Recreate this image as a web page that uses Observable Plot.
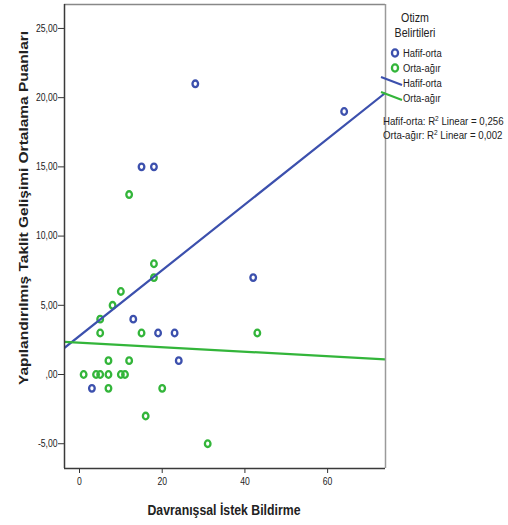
<!DOCTYPE html>
<html>
<head>
<meta charset="utf-8">
<script src="https://cdn.jsdelivr.net/npm/d3@7"></script>
<script src="https://cdn.jsdelivr.net/npm/@observablehq/plot@0.6"></script>
<style>
  body { margin: 0; background: #fff; }
  #chart svg { display: block; }
</style>
</head>
<body>
<div id="chart"></div>
<script>
// Groups and their colours
const groups = ["Hafif-orta", "Orta-ağır"];
const colors = ["#3c50ad", "#33b53a"];

// Hafif-orta observations
const hafifX = [28, 64, 15, 18, 42, 13, 19, 23, 24, 3];
const hafifY = [21, 19, 15, 15, 7, 4, 3, 3, 1, -1];

// Orta-ağır observations
const ortaX = [18, 18, 10, 8, 5, 5, 15, 7, 12, 1, 4, 5, 7, 10, 11, 7, 20, 16, 31, 12, 43];
const ortaY = [8, 7, 6, 5, 4, 3, 3, 1, 1, 0, 0, 0, 0, 0, 0, -1, -1, -3, -5, 13, 3];

// Axes
const xTicks = [0, 20, 40, 60];
const yTicks = [-5, 0, 5, 10, 15, 20, 25];
const xDomain = [-3.63, 74.0];
const yDomain = [-6.79, 26.73];
const xTitle = "Davranışsal İstek Bildirme";
const yTitle = "Yapılandırılmış Taklit Gelişimi Ortalama Puanları";
const legendTitle = ["Otizm", "Belirtileri"];

// Arial-metric face, squeezed horizontally for a narrow look
const font = "'Liberation Sans', Arial, sans-serif";
const squeeze = 0.82;

// Table of points
const points = [
  ...hafifX.map((x, i) => ({x, y: hafifY[i], group: groups[0]})),
  ...ortaX.map((x, i) => ({x, y: ortaY[i], group: groups[1]}))
];

// Least-squares fit per group, spanning the full x domain
function fit(xs, ys, group) {
  const mx = d3.mean(xs), my = d3.mean(ys);
  const sxy = d3.sum(xs, (x, i) => (x - mx) * (ys[i] - my));
  const sxx = d3.sum(xs, x => (x - mx) ** 2);
  const syy = d3.sum(ys, y => (y - my) ** 2);
  const b = sxy / sxx, a = my - b * mx;
  return {
    group,
    r2: (sxy * sxy) / (sxx * syy),
    line: xDomain.map(x => ({x, y: a + b * x, group}))
  };
}
const fits = [fit(hafifX, hafifY, groups[0]), fit(ortaX, ortaY, groups[1])];

// Slightly tall hollow marker
const oval = {
  draw(ctx, size) {
    const r = Math.sqrt(size / Math.PI);
    const rx = r * 0.85, ry = r, k = 0.5523;
    ctx.moveTo(rx, 0);
    ctx.bezierCurveTo(rx, ry * k, rx * k, ry, 0, ry);
    ctx.bezierCurveTo(-rx * k, ry, -rx, ry * k, -rx, 0);
    ctx.bezierCurveTo(-rx, -ry * k, -rx * k, -ry, 0, -ry);
    ctx.bezierCurveTo(rx * k, -ry, rx, -ry * k, rx, 0);
    ctx.closePath();
  }
};

const fmtY = d => d === 0 ? ",00" : d.toFixed(2).replace(".", ",");

const plot = Plot.plot({
  width: 508,
  height: 525,
  marginLeft: 64,
  marginRight: 123,
  marginTop: 4,
  marginBottom: 57,
  x: {domain: xDomain},
  y: {domain: yDomain},
  color: {domain: groups, range: colors},
  style: {fontFamily: font, fontSize: "10.5px", color: "#222", background: "#fff", overflow: "visible"},
  marks: [
    Plot.axisY({ticks: yTicks, tickFormat: fmtY, tickSize: 6, tickPadding: 1, label: null, stroke: "#333"}),
    Plot.axisX({ticks: xTicks, tickSize: 5, tickPadding: 4, label: null, stroke: "#333"}),
    Plot.dot(points, {x: "x", y: "y", stroke: "group", symbol: oval, r: 3.3, strokeWidth: 2.3, fill: "none"}),
    ...fits.map(f => Plot.line(f.line, {x: "x", y: "y", stroke: "group", strokeWidth: 2.2, clip: true})),
    Plot.ruleY([yDomain[1]], {stroke: "#888", strokeWidth: 1.5}),
    Plot.ruleX([xDomain[1]], {stroke: "#9a9a9a", strokeWidth: 1.5}),
    Plot.ruleY([yDomain[0]], {stroke: "#3a3a3a", strokeWidth: 1.5}),
    Plot.ruleX([xDomain[0]], {stroke: "#3a3a3a", strokeWidth: 1.5})
  ]
});

const svg = d3.select(plot);

// Narrow the tick labels around their own anchor points
svg.selectAll("text").each(function () {
  const t = d3.select(this);
  t.attr("transform", (t.attr("transform") || "") + ` scale(${squeeze},1)`);
});

// Helper for squeezed text
function label(parent, x, y, str, size, opts = {}) {
  return parent.append("text")
    .attr("transform", `translate(${x},${y}) scale(${squeeze},1)`)
    .attr("text-anchor", opts.anchor || "start")
    .attr("dy", opts.dy || null)
    .attr("font-family", font)
    .attr("font-weight", opts.bold ? "bold" : null)
    .attr("font-size", size)
    .attr("fill", "#222")
    .text(str);
}

// Axis titles
svg.append("text")
  .attr("transform", "translate(28,208) rotate(-90) scale(1,0.8)")
  .attr("text-anchor", "middle")
  .attr("font-family", font)
  .attr("font-weight", "bold")
  .attr("font-size", 15.5)
  .attr("fill", "#222")
  .text(yTitle);

label(svg, 224, 515, xTitle, 15, {anchor: "middle", bold: true});

// Legend
const lg = svg.append("g");
legendTitle.forEach((t, i) => label(lg, 415, 22 + i * 15, t, 13, {anchor: "middle"}));
groups.forEach((g, i) => {
  const cy = 53 + i * 15;
  lg.append("path")
    .attr("d", d3.symbol(oval, 3.6 * 3.6 * Math.PI)())
    .attr("transform", `translate(395,${cy})`)
    .attr("fill", "none").attr("stroke", colors[i]).attr("stroke-width", 2.3);
  label(lg, 403, cy, g, 11.5, {dy: "0.35em"});
});
groups.forEach((g, i) => {
  const cy = 83 + i * 15;
  lg.append("line")
    .attr("x1", 381).attr("y1", cy - 6).attr("x2", 402).attr("y2", cy + 2)
    .attr("stroke", colors[i]).attr("stroke-width", 2.2);
  label(lg, 403, cy, g, 11.5, {dy: "0.35em"});
});
fits.forEach((f, i) => {
  const t = label(lg, 383, 121 + i * 14, "", 11.8, {dy: "0.35em"});
  t.append("tspan").text(`${f.group}: R`);
  t.append("tspan").attr("dy", -4).attr("font-size", 8).text("2");
  t.append("tspan").attr("dy", 4).text(" Linear = " + f.r2.toFixed(3).replace(".", ","));
});

document.getElementById("chart").appendChild(plot);
</script>
</body>
</html>
